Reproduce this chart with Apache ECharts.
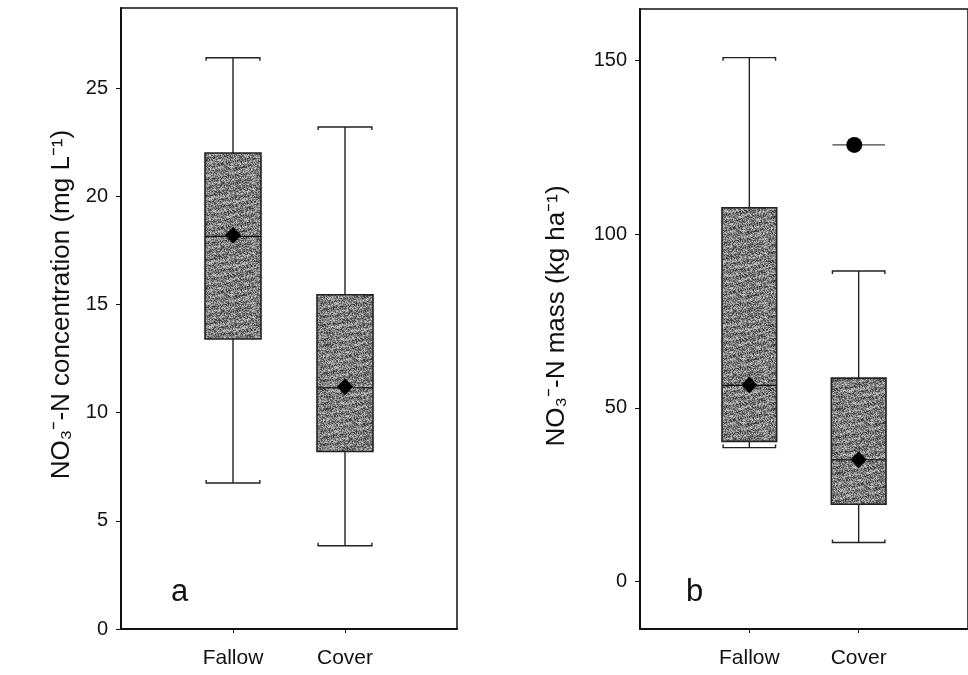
<!DOCTYPE html>
<html>
<head>
<meta charset="utf-8">
<title>NO3-N box plots</title>
<script src="https://cdn.jsdelivr.net/npm/echarts@6/dist/echarts.min.js"></script>
<style>
  html, body { margin: 0; padding: 0; background: #fff; }
  #chart { width: 968px; height: 675px; }
</style>
</head>
<body>
<div id="chart"></div>
<script>
// categories
var categories = ['Fallow', 'Cover'];

// panel a - NO3-N concentration (mg/L)
var concLow    = [6.75, 3.85];
var concQ1     = [13.4, 8.2];
var concMedian = [18.15, 11.15];
var concQ3     = [22.0, 15.45];
var concHigh   = [26.4, 23.2];
var concMean   = [18.2, 11.2];
var concTicks  = [0, 5, 10, 15, 20, 25];

// panel b - NO3-N mass (kg/ha)
var massLow    = [38.6, 11.3];
var massQ1     = [40.4, 22.3];
var massMedian = [56.5, 35.1];
var massQ3     = [107.6, 58.6];
var massHigh   = [150.8, 89.4];
var massMean   = [56.6, 35.1];
var massOutlierCat = ['Cover'];
var massOutlier    = [125.7];
var massTicks  = [0, 50, 100, 150];

// speckled grey fill like the scanned figure (deterministic, no random)
function makeGrain() {
    var c = document.createElement('canvas');
    c.width = 64; c.height = 64;
    var ctx = c.getContext('2d');
    var img = ctx.createImageData(64, 64);
    for (var y = 0; y < 64; y++) {
        for (var x = 0; x < 64; x++) {
            var h = Math.sin(x * 12.9898 + y * 78.233) * 43758.5453;
            h = h - Math.floor(h);
            var streak = Math.sin(y * 0.9 + x * 0.15) * 18;
            var v = Math.round(60 + h * 130 + streak);
            v = Math.max(25, Math.min(215, v));
            var i = (y * 64 + x) * 4;
            img.data[i] = v; img.data[i + 1] = v; img.data[i + 2] = v; img.data[i + 3] = 255;
        }
    }
    ctx.putImageData(img, 0, 0);
    return c;
}
var grain = { image: makeGrain(), repeat: 'repeat' };

function boxRows(low, q1, med, q3, high) {
    return categories.map(function (c, i) {
        return [i + 1, low[i], q1[i], med[i], q3[i], high[i]];
    });
}

function capShape(api, x, y, half, dir) {
    var p1 = api.coord([x - half, y]);
    var p2 = api.coord([x + half, y]);
    return {
        type: 'polyline',
        shape: { points: [[p1[0], p1[1] + 3 * dir], [p1[0], p1[1]], [p2[0], p2[1]], [p2[0], p2[1] + 3 * dir]] },
        style: { stroke: '#222', lineWidth: 1.4, fill: null }
    };
}

function renderBox(params, api) {
    var x = api.value(0);
    var low = api.value(1), q1 = api.value(2), med = api.value(3), q3 = api.value(4), high = api.value(5);
    var bw = 0.25, cw = 0.24;
    var tl = api.coord([x - bw, q3]);
    var br = api.coord([x + bw, q1]);
    var cHigh = api.coord([x, high]), cQ3 = api.coord([x, q3]);
    var cQ1 = api.coord([x, q1]), cLow = api.coord([x, low]);
    var mL = api.coord([x - bw, med]), mR = api.coord([x + bw, med]);
    return {
        type: 'group',
        children: [
            { type: 'line', shape: { x1: cHigh[0], y1: cHigh[1], x2: cQ3[0], y2: cQ3[1] }, style: { stroke: '#222', lineWidth: 1.4 } },
            { type: 'line', shape: { x1: cQ1[0], y1: cQ1[1], x2: cLow[0], y2: cLow[1] }, style: { stroke: '#222', lineWidth: 1.4 } },
            capShape(api, x, high, cw, 1),
            capShape(api, x, low, cw, -1),
            { type: 'rect', shape: { x: tl[0], y: tl[1], width: br[0] - tl[0], height: br[1] - tl[1] },
              style: { fill: grain, stroke: '#222', lineWidth: 1.6 } },
            { type: 'line', shape: { x1: mL[0], y1: mL[1], x2: mR[0], y2: mR[1] }, style: { stroke: '#111', lineWidth: 1.2 } }
        ]
    };
}

function renderCapOnly(params, api) {
    var x = api.value(0), y = api.value(1);
    var p1 = api.coord([x - 0.24, y]);
    var p2 = api.coord([x + 0.24, y]);
    return { type: 'line', shape: { x1: p1[0], y1: p1[1], x2: p2[0], y2: p2[1] }, style: { stroke: '#444', lineWidth: 1.2 } };
}

function catLabel(v) {
    return categories[Math.round(v) - 1] || '';
}

var FONT = 'Liberation Sans, Arial, sans-serif';

function xAxisFor(gridIndex) {
    return {
        type: 'value', gridIndex: gridIndex, min: 0, max: 3,
        axisLine: { onZero: false, lineStyle: { color: '#111', width: 2 } },
        axisTick: { customValues: [1, 2], length: 4, lineStyle: { color: '#111' } },
        axisLabel: { customValues: [1, 2], formatter: catLabel, margin: 19, color: '#111', fontSize: 21, fontFamily: FONT },
        splitLine: { show: false }
    };
}

function yAxisFor(gridIndex, min, max, ticks, name, gap, pad) {
    return {
        type: 'value', gridIndex: gridIndex, min: min, max: max,
        name: name,
        nameLocation: 'middle', nameGap: gap,
        nameTextStyle: { fontSize: 26, color: '#111', fontFamily: FONT, padding: pad },
        axisLine: { show: true, onZero: false, lineStyle: { color: '#111', width: 2 } },
        axisTick: { customValues: ticks, length: 5, lineStyle: { color: '#111' } },
        axisLabel: { customValues: ticks, margin: 13, color: '#111', fontSize: 20, fontFamily: FONT },
        splitLine: { show: false }
    };
}

var chart = echarts.init(document.getElementById('chart'));
chart.setOption({
    animation: false,
    backgroundColor: '#fff',
    title: [
        { text: 'a', left: 166, top: 572, textStyle: { fontSize: 31, fontWeight: 'normal', color: '#111', fontFamily: FONT } },
        { text: 'b', left: 681, top: 572, textStyle: { fontSize: 31, fontWeight: 'normal', color: '#111', fontFamily: FONT } }
    ],
    grid: [
        { left: 121, top: 8, width: 336, height: 621, show: true, borderColor: '#111', borderWidth: 1.5, backgroundColor: 'transparent' },
        { left: 640, top: 9, width: 342, height: 620, show: true, borderColor: '#111', borderWidth: 1.5, backgroundColor: 'transparent' }
    ],
    xAxis: [xAxisFor(0), xAxisFor(1)],
    yAxis: [
        yAxisFor(0, 0, 28.7, concTicks, 'NO₃⁻-N concentration (mg L⁻¹)', 46, [0, 0, 0, 28]),
        yAxisFor(1, -13.6, 164.8, massTicks, 'NO₃⁻-N mass (kg ha⁻¹)', 70, [0, 0, 0, 6])
    ],
    series: [
        {
            type: 'custom', xAxisIndex: 0, yAxisIndex: 0,
            renderItem: renderBox,
            encode: { x: 0, y: [1, 2, 3, 4, 5] },
            data: boxRows(concLow, concQ1, concMedian, concQ3, concHigh)
        },
        {
            type: 'scatter', xAxisIndex: 0, yAxisIndex: 0,
            symbol: 'diamond', symbolSize: [16, 17],
            itemStyle: { color: '#000', opacity: 1 },
            data: concMean.map(function (v, i) { return [i + 1, v]; })
        },
        {
            type: 'custom', xAxisIndex: 1, yAxisIndex: 1,
            renderItem: renderBox,
            encode: { x: 0, y: [1, 2, 3, 4, 5] },
            data: boxRows(massLow, massQ1, massMedian, massQ3, massHigh)
        },
        {
            type: 'scatter', xAxisIndex: 1, yAxisIndex: 1,
            symbol: 'diamond', symbolSize: [16, 17],
            itemStyle: { color: '#000', opacity: 1 },
            data: massMean.map(function (v, i) { return [i + 1, v]; })
        },
        {
            type: 'custom', xAxisIndex: 1, yAxisIndex: 1,
            renderItem: renderCapOnly,
            encode: { x: 0, y: 1 },
            data: massOutlier.map(function (v, i) { return [categories.indexOf(massOutlierCat[i]) + 1, v]; })
        },
        {
            type: 'scatter', xAxisIndex: 1, yAxisIndex: 1,
            symbol: 'circle', symbolSize: 16,
            itemStyle: { color: '#000', opacity: 1 },
            data: massOutlier.map(function (v, i) { return [categories.indexOf(massOutlierCat[i]) + 0.96, v]; })
        }
    ]
});
</script>
</body>
</html>
